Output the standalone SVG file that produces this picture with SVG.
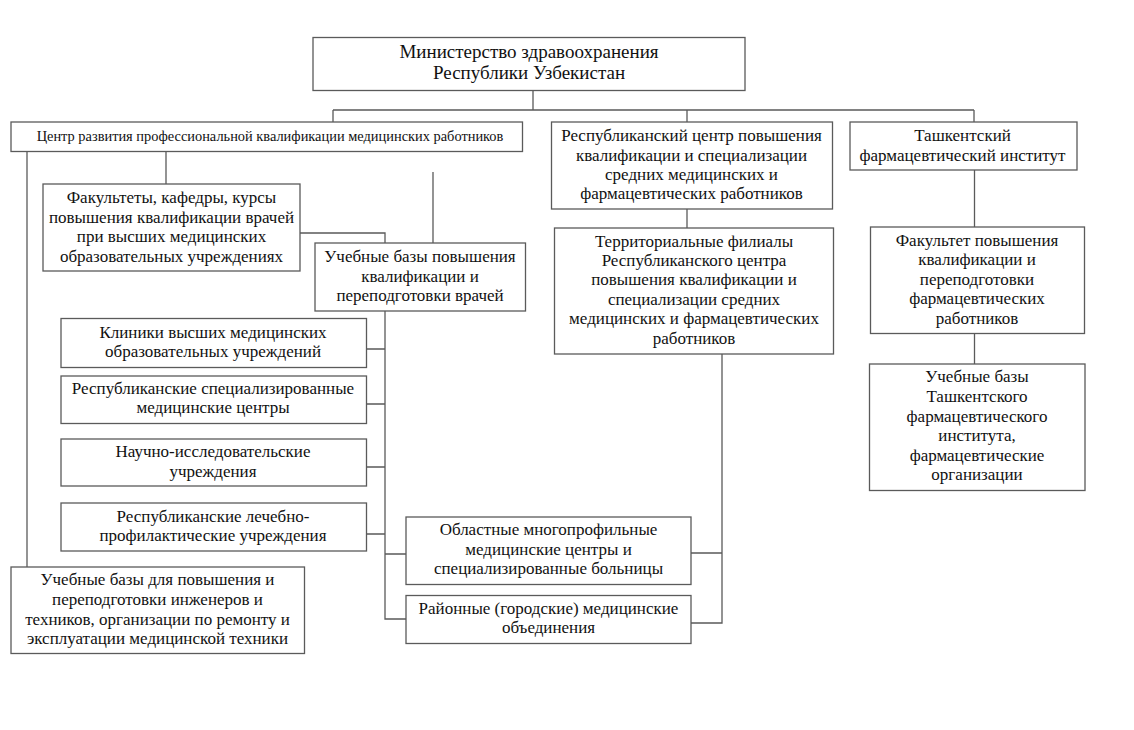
<svg xmlns="http://www.w3.org/2000/svg" width="1134" height="730" viewBox="0 0 1134 730">
<style>
.box{fill:#fff;stroke:#5a5a5a;stroke-width:1.3}
.ln{fill:none;stroke:#5a5a5a;stroke-width:1.3}
text{font-family:"Liberation Serif","Times New Roman",serif;font-size:17px;fill:#111;text-anchor:middle}
.big{font-size:19px}
.sm{font-size:14.4px}
</style>
<rect width="1134" height="730" fill="#fff"/>
<g id="connectors">
<path class="ln" d="M533,90V110M333,110H974M333,110V122M687,110V122M974,110V122"/>
<path class="ln" d="M27,151V567"/>
<path class="ln" d="M166,151V184"/>
<path class="ln" d="M300,233H385V243"/>
<path class="ln" d="M433,172V243"/>
<path class="ln" d="M385,311V619H406M366,349H385M366,404H385M366,467H385M366,534H385M385,554H406"/>
<path class="ln" d="M687,209V228"/>
<path class="ln" d="M722,354V623H691M691,553H722"/>
<path class="ln" d="M974.5,170V227M974.5,333V364"/>
</g>
<g id="n-ministry"><rect class="box" x="313" y="37.5" width="432" height="53"/>
<text class="big" x="529" y="58">Министерство здравоохранения</text>
<text class="big" x="529" y="79">Республики Узбекистан</text></g>
<g id="n-center"><rect class="box" x="11" y="122" width="511.5" height="29.5"/>
<text class="sm" x="270" y="141">Центр развития профессиональной квалификации медицинских работников</text></g>
<g id="n-faculties"><rect class="box" x="43" y="184" width="257" height="87"/>
<text x="171.5" y="203">Факультеты, кафедры, курсы</text>
<text x="171.5" y="222.5">повышения квалификации врачей</text>
<text x="171.5" y="242">при высших медицинских</text>
<text x="171.5" y="261.5">образовательных учреждениях</text></g>
<g id="n-bases"><rect class="box" x="315" y="243" width="210.5" height="68"/>
<text x="420" y="262">Учебные базы повышения</text>
<text x="420" y="281.5">квалификации и</text>
<text x="420" y="300.5">переподготовки врачей</text></g>
<g id="n-clinics"><rect class="box" x="61" y="318.5" width="305.5" height="49"/>
<text x="213" y="338">Клиники высших медицинских</text>
<text x="213" y="357">образовательных учреждений</text></g>
<g id="n-rsmc"><rect class="box" x="61" y="376" width="305.5" height="47.5"/>
<text x="213" y="394">Республиканские специализированные</text>
<text x="213" y="413">медицинские центры</text></g>
<g id="n-research"><rect class="box" x="61" y="439" width="305.5" height="47"/>
<text x="213" y="457">Научно-исследовательские</text>
<text x="213" y="476.5">учреждения</text></g>
<g id="n-rlpu"><rect class="box" x="61" y="503" width="305.5" height="48"/>
<text x="213" y="521.5">Республиканские лечебно-</text>
<text x="213" y="541">профилактические учреждения</text></g>
<g id="n-engineers"><rect class="box" x="11" y="567" width="293.5" height="86.5"/>
<text x="157.5" y="585">Учебные базы для повышения и</text>
<text x="157.5" y="605">переподготовки инженеров и</text>
<text x="157.5" y="625">техников, организации по ремонту и</text>
<text x="157.5" y="644">эксплуатации медицинской техники</text></g>
<g id="n-oblast"><rect class="box" x="406" y="517" width="285" height="67.5"/>
<text x="548.5" y="535">Областные многопрофильные</text>
<text x="548.5" y="555">медицинские центры и</text>
<text x="548.5" y="574">специализированные больницы</text></g>
<g id="n-district"><rect class="box" x="406" y="595.5" width="285" height="48"/>
<text x="548.5" y="614">Районные (городские) медицинские</text>
<text x="548.5" y="633">объединения</text></g>
<g id="n-repcenter"><rect class="box" x="551.5" y="122" width="281" height="87"/>
<text x="691.5" y="141">Республиканский центр повышения</text>
<text x="691.5" y="160.5">квалификации и специализации</text>
<text x="691.5" y="180">средних медицинских и</text>
<text x="691.5" y="199">фармацевтических работников</text></g>
<g id="n-branches"><rect class="box" x="554.5" y="228" width="279" height="126"/>
<text x="694" y="246.5">Территориальные филиалы</text>
<text x="694" y="265.5">Республиканского центра</text>
<text x="694" y="285">повышения квалификации и</text>
<text x="694" y="304.5">специализации средних</text>
<text x="694" y="324">медицинских и фармацевтических</text>
<text x="694" y="343.5">работников</text></g>
<g id="n-tashpharm"><rect class="box" x="850" y="122" width="227" height="48"/>
<text x="962.5" y="141">Ташкентский</text>
<text x="962.5" y="160.5">фармацевтический институт</text></g>
<g id="n-pharmfac"><rect class="box" x="870.5" y="227" width="214" height="106.5"/>
<text x="977" y="245.5">Факультет повышения</text>
<text x="977" y="265">квалификации и</text>
<text x="977" y="285">переподготовки</text>
<text x="977" y="304">фармацевтических</text>
<text x="977" y="324">работников</text></g>
<g id="n-pharmbases"><rect class="box" x="869.5" y="364" width="215.5" height="126.5"/>
<text x="977" y="382">Учебные базы</text>
<text x="977" y="402">Ташкентского</text>
<text x="977" y="421.5">фармацевтического</text>
<text x="977" y="441">института,</text>
<text x="977" y="460.5">фармацевтические</text>
<text x="977" y="480">организации</text></g>
</svg>
